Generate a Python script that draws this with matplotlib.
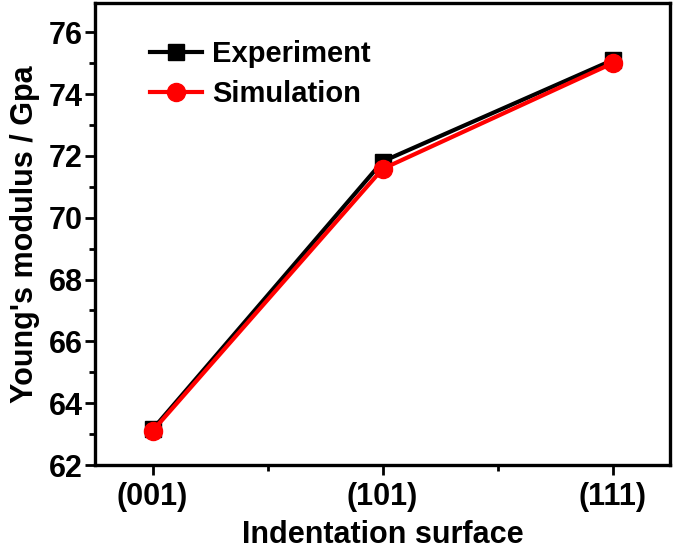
import matplotlib
matplotlib.use("Agg")
import matplotlib.pyplot as plt
from matplotlib.ticker import MultipleLocator, FixedLocator

plt.rcParams['font.family'] = ['Liberation Sans', 'DejaVu Sans']
plt.rcParams['font.weight'] = 'bold'

surfaces = ["(001)", "(101)", "(111)"]
experiment = [63.15, 71.82, 75.1]
simulation = [63.1, 71.58, 75.0]

fig = plt.figure(figsize=(6.75, 5.51), dpi=100)
ax = fig.add_axes([95/675, (551-465)/551, 575/675, 462/551])

x = list(range(len(surfaces)))
ax.plot(x, experiment, color='black', lw=3, marker='s', ms=11,
        label='Experiment', zorder=3)
ax.plot(x, simulation, color='#ff0000', lw=3, marker='o', ms=13,
        label='Simulation', zorder=4)

ax.set_xlim(-0.25, 2.25)
ax.set_ylim(62, 76.95)
ax.set_xticks(x)
ax.set_xticklabels(surfaces)
ax.xaxis.set_minor_locator(FixedLocator([0.5, 1.5]))
ax.yaxis.set_major_locator(MultipleLocator(2))
ax.yaxis.set_minor_locator(MultipleLocator(1))

for s in ax.spines.values():
    s.set_linewidth(2.4)
ax.tick_params(which='major', direction='out', length=7, width=2, labelsize=22, pad=2)
ax.tick_params(which='minor', direction='out', length=4, width=2)
ax.tick_params(axis='x', which='major', pad=5)
ax.tick_params(top=False, right=False, which='both')

ax.set_xlabel('Indentation surface', fontsize=22, fontweight='bold', labelpad=6)
ax.set_ylabel("Young's modulus / Gpa", fontsize=22, fontweight='bold', labelpad=6)

leg = ax.legend(loc='upper left', bbox_to_anchor=(0.095, 0.92), frameon=False,
                fontsize=21, handlelength=1.8, handletextpad=0.35,
                labelspacing=0.42, borderpad=0, borderaxespad=0)

fig.savefig('out.png', dpi=100)
